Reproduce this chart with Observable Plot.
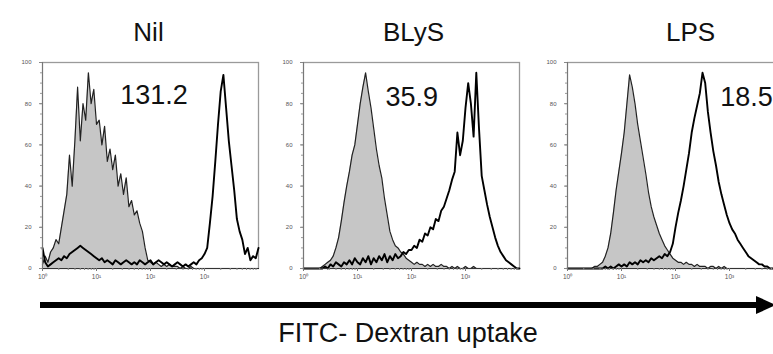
<!DOCTYPE html>
<html>
<head>
<meta charset="utf-8">
<script src="https://cdn.jsdelivr.net/npm/d3@7"></script>
<script src="https://cdn.jsdelivr.net/npm/@observablehq/plot@0.6"></script>
<style>
  html, body { margin: 0; padding: 0; background: #fff; }
  #fig { position: relative; width: 773px; height: 354px; overflow: hidden; background: #fff;
         font-family: "Liberation Sans", Arial, sans-serif; }
  .panel { position: absolute; top: 0; width: 262px; height: 294px; }
  .panel svg { max-width: none !important; }
  #shaft { position: absolute; left: 40px; top: 302px; width: 720px; height: 6px; background: #000; }
  #head { position: absolute; left: 756px; top: 296px; width: 0; height: 0;
          border-left: 20px solid #000; border-top: 9px solid transparent; border-bottom: 9px solid transparent; }
  #xlabel { position: absolute; left: 408px; top: 320px; transform: translateX(-50%); white-space: nowrap;
            font-size: 27px; line-height: 27px; color: #111; }
</style>
</head>
<body>
<div id="fig">
  <div id="shaft"></div>
  <div id="head"></div>
  <div id="xlabel">FITC- Dextran uptake</div>
</div>
<script>
// Fluorescence bins, in decades (log10 of FITC intensity)
const decades = [0,0.05,0.1,0.15,0.2,0.25,0.3,0.35,0.4,0.45,
  0.5,0.55,0.6,0.65,0.7,0.75,0.8,0.85,0.9,0.95,
  1,1.05,1.1,1.15,1.2,1.25,1.3,1.35,1.4,1.45,
  1.5,1.55,1.6,1.65,1.7,1.75,1.8,1.85,1.9,1.95,
  2,2.05,2.1,2.15,2.2,2.25,2.3,2.35,2.4,2.45,
  2.5,2.55,2.6,2.65,2.7,2.75,2.8,2.85,2.9,2.95,
  3,3.05,3.1,3.15,3.2,3.25,3.3,3.35,3.4,3.45,
  3.5,3.55,3.6,3.65,3.7,3.75,3.8,3.85,3.9,3.95,
  4];

const panelTitles = ["Nil", "BLyS", "LPS"];
const panelValues = ["131.2", "35.9", "18.5"];

// Filled (gray) histograms
const nilGray = [2,6,3,8,10,14,12,20,28,36,
  55,40,62,88,62,80,72,95,80,87,
  70,72,60,69,52,58,48,55,40,46,
  36,44,30,33,26,28,22,18,10,4,
  3,2,3,2,1,2,1,2,1,1,
  1,0,1,0,0,1,0,0,0,0,
  0,0,0,0,0,0,0,0,0,0,
  0,0,0,0,0,0,0,0,0,0,
  0];
const blysGray = [0,0,0,0,0,0,0,1,2,3,
  4,6,10,15,23,32,40,47,55,60,
  70,80,88,95,86,78,68,58,50,44,
  34,26,18,14,11,10,8,7,5,4,
  3,2,3,2,2,1,2,1,2,1,
  1,2,1,1,0,1,0,1,0,0,
  1,0,0,1,0,0,0,0,0,0,
  0,0,0,0,0,0,0,0,0,0,
  0];
const lpsGray = [0,0,0,0,0,0,0,0,0,0,
  1,1,2,3,6,10,17,27,38,47,
  56,66,80,94,88,80,70,62,54,46,
  37,30,25,21,17,14,11,9,7,5,
  4,3,3,2,3,2,2,1,2,1,
  1,1,0,1,1,0,1,0,1,0,
  0,0,0,0,0,0,0,0,0,0,
  0,0,0,0,0,0,0,0,0,0,
  0];

// Open (black) histograms
const nilBlack = [10,3,1,2,3,4,5,4,6,5,
  7,8,9,10,11,10,9,8,7,6,
  5,4,5,3,4,3,2,4,3,2,
  3,4,3,2,3,2,4,3,2,3,
  4,2,3,4,3,2,3,2,1,2,
  3,2,1,2,1,2,3,2,4,5,
  7,10,22,35,52,70,86,94,78,62,
  50,38,24,18,14,7,10,4,6,5,
  10];
const blysBlack = [0,0,0,0,0,0,0,0,1,0,
  2,1,3,2,1,3,2,4,2,5,
  3,2,5,3,6,2,5,3,6,4,
  7,3,6,4,7,5,6,8,7,9,
  9,11,10,14,13,17,16,20,19,24,
  23,28,30,34,38,43,47,66,55,62,
  78,90,80,64,95,68,45,38,31,25,
  20,15,11,8,6,4,3,2,1,0,
  0];
const lpsBlack = [0,0,0,0,0,0,0,0,0,0,
  0,0,0,0,1,0,1,0,1,2,
  1,2,1,3,2,3,2,4,3,4,
  3,5,4,5,6,5,7,6,8,12,
  20,27,33,40,48,56,66,73,79,85,
  95,90,76,66,57,50,42,36,31,26,
  22,19,17,14,12,10,8,6,5,4,
  3,2,2,1,1,0,0,0,0,0,
  0];

const xTicks = [1, 10, 100, 1000];
const yTicks = [0, 20, 40, 60, 80, 100];

// layout / style per panel (not data): panel offset, title nudge, value-label anchor (decade, y)
const layout = [
  {left: 0,   gray: nilGray,  black: nilBlack,  titleDx: -2, lx: 1.44, ly: 84},
  {left: 261, gray: blysGray, black: blysBlack, titleDx: 2,  lx: 1.52, ly: 83},
  {left: 525, gray: lpsGray,  black: lpsBlack,  titleDx: 15, lx: 2.83, ly: 83}
];

const sup = {"0": "\u2070", "1": "\u00b9", "2": "\u00b2", "3": "\u00b3"};
const minorX = [];
for (const p of [1, 10, 100, 1000]) for (let m = 2; m <= 9; m++) minorX.push(p * m);
const minorY = d3.range(0, 101, 5);

layout.forEach((cfg, k) => {
  const gData = decades.map((d, i) => ({x: 10 ** d, y: cfg.gray[i]}));
  const bData = decades.map((d, i) => ({x: 10 ** d, y: cfg.black[i]}));
  const chart = Plot.plot({
    width: 262, height: 294,
    marginLeft: 42, marginRight: 4, marginTop: 62, marginBottom: 26,
    style: {fontFamily: "Liberation Sans, Arial, sans-serif", background: "transparent", overflow: "visible"},
    x: {type: "log", domain: [1, 1e4]},
    y: {domain: [0, 100]},
    marks: [
      Plot.frame({stroke: "#9a9a9a", strokeWidth: 1.3}),
      Plot.areaY(gData, {x: "x", y: "y", fill: "#c6c6c6"}),
      Plot.lineY(gData, {x: "x", y: "y", stroke: "#222", strokeWidth: 1.2}),
      Plot.lineY(bData, {x: "x", y: "y", stroke: "#000", strokeWidth: 1.9}),
      Plot.ruleX([1], {stroke: "#777", strokeWidth: 1}),
      Plot.ruleY([0], {stroke: "#333", strokeWidth: 1}),
      Plot.axisX(minorX, {tickSize: 2, tickFormat: () => "", stroke: "#888", label: null}),
      Plot.axisX(xTicks, {tickSize: 3, tickPadding: 3, fontSize: 6.5, fill: "#555", stroke: "#777",
        tickFormat: d => "10" + sup[String(Math.round(Math.log10(d)))], label: null}),
      Plot.axisY(minorY, {tickSize: 2, tickFormat: () => "", stroke: "#999", label: null}),
      Plot.axisY(yTicks, {tickSize: 3, tickPadding: 8, fontSize: 6, fill: "#555", stroke: "#888", label: null}),
      Plot.text([panelTitles[k]], {frameAnchor: "top", dy: -40, dx: cfg.titleDx, fontSize: 26, fill: "#111"}),
      Plot.text([panelValues[k]], {x: () => 10 ** cfg.lx, y: () => cfg.ly,
        textAnchor: "start", fontSize: 27, fill: "#111"})
    ]
  });
  const div = document.createElement("div");
  div.className = "panel";
  div.style.left = cfg.left + "px";
  div.appendChild(chart);
  document.getElementById("fig").appendChild(div);
});
</script>
</body>
</html>
